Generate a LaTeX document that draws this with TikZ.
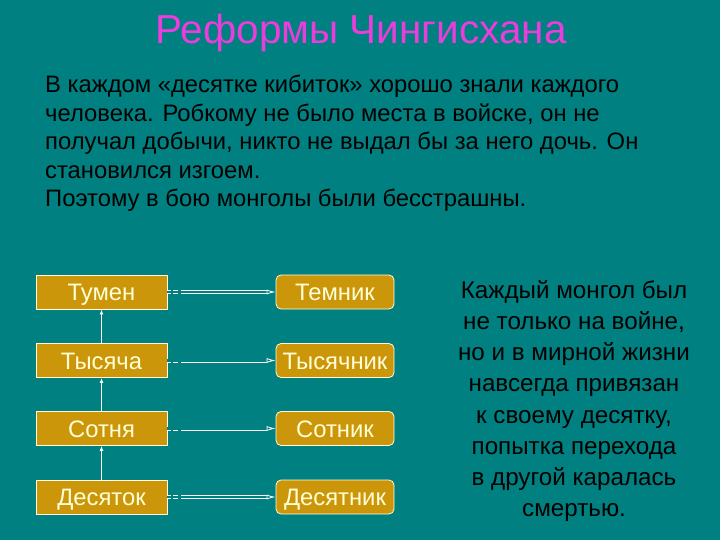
\documentclass[tikz,border=0pt]{standalone}
\usepackage{fontspec}
\setmainfont{Liberation Sans}
\usetikzlibrary{arrows.meta}

\definecolor{slide}{RGB}{0,128,128}
\definecolor{gold}{RGB}{204,150,10}
\definecolor{pinktitle}{RGB}{235,60,220}
\definecolor{pale}{RGB}{255,255,215}

\begin{document}
\begin{tikzpicture}[x=1pt, y=-1pt,
    unit/.style={draw=pale, line width=0.8pt, fill=gold, text=pale, minimum width=131pt, minimum height=34pt, inner sep=0pt, text height=17pt, text depth=0pt, font=\fontsize{23.8}{26}\selectfont},
    chief/.style={unit, rounded corners=5pt, minimum width=118pt},
    up/.style={white, line width=1pt, -{Latex[length=5pt,width=4pt]}},
    link/.style={white, line width=0.8pt, double=slide, double distance=2.4pt, dash pattern=on 4pt off 2pt on 5pt off 3pt on 300pt off 0pt, -{Latex[open,length=9pt,width=5pt]}},
]

\def\lx{101.5}
\def\rx{335}

% background
\fill[slide] (0,0) rectangle (720,540);
\useasboundingbox (0,0) rectangle (720,540);

% title
\node[text=pinktitle, font=\fontsize{40.5}{42}\selectfont] (title) at (361,33) {Реформы Чингисхана};

% text
\node[anchor=north west, align=left, inner sep=0pt, font=\fontsize{23.8}{28.5}\selectfont] (intro) at (45,75)
 {В каждом «десятке кибиток» хорошо знали каждого\\
 человека. Робкому не было места в войске, он не\\
 получал добычи, никто не выдал бы за него дочь. Он\\
 становился изгоем.\\
 Поэтому в бою монголы были бесстрашны.};

% units and chiefs
\foreach \i/\u/\c/\y in {1/Тумен/Темник/292, 2/Тысяча/Тысячник/360.5, 3/Сотня/Сотник/428.5, 4/Десяток/Десятник/497}{
\node[unit] (u\i) at (\lx,\y) {\u};
\node[chief] (c\i) at (\rx,\y) {\c};
\draw[link] (u\i.east) -- (c\i.west);
}

% arrows up
\foreach \i/\j in {2/1, 3/2, 4/3}{
\draw[up] (u\i.north) -- (u\j.south);
}

\node[align=center, inner sep=0pt, font=\fontsize{24.2}{31.1}\selectfont] (note) at (574,401)
 {Каждый монгол был\\
 не только на войне,\\
 но и в мирной жизни\\
 навсегда привязан\\
 к своему десятку,\\
 попытка перехода\\
 в другой каралась\\
 смертью.};
\end{tikzpicture}
\end{document}
